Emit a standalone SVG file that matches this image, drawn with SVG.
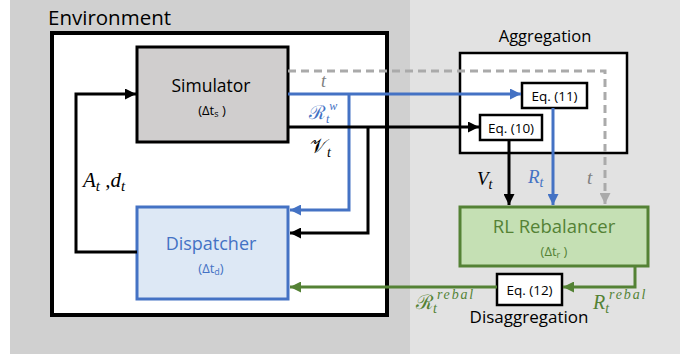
<svg xmlns="http://www.w3.org/2000/svg" width="694" height="354" viewBox="0 0 694 354">
<defs>
<marker id="ak" viewBox="0 0 10 10" refX="10" refY="5" markerWidth="11" markerHeight="11" markerUnits="userSpaceOnUse" orient="auto"><path d="M0,0 L10,5 L0,10 z" fill="#000"/></marker>
<marker id="ab" viewBox="0 0 10 10" refX="10" refY="5" markerWidth="11" markerHeight="11" markerUnits="userSpaceOnUse" orient="auto"><path d="M0,0 L10,5 L0,10 z" fill="#4472c4"/></marker>
<marker id="ag" viewBox="0 0 10 10" refX="10" refY="5" markerWidth="11" markerHeight="11" markerUnits="userSpaceOnUse" orient="auto"><path d="M0,0 L10,5 L0,10 z" fill="#aaaaaa"/></marker>
<marker id="an" viewBox="0 0 10 10" refX="10" refY="5" markerWidth="11" markerHeight="11" markerUnits="userSpaceOnUse" orient="auto"><path d="M0,0 L10,5 L0,10 z" fill="#548235"/></marker>
</defs>
<style>
.t{font-family:"Open Sans","Noto Sans",sans-serif}
.m{font-family:"Liberation Serif","DejaVu Serif",serif;font-style:italic}
.s{font-family:"DejaVu Serif","Liberation Serif",serif;font-style:normal}
.eq{fill:#fff;stroke:#000;stroke-width:2.5}
.c{fill:none;stroke-width:3}
.sup{letter-spacing:1.8px}
</style>
<rect x="10" y="0" width="400" height="354" fill="#d0d0d0"/>
<rect x="410" y="0" width="270" height="354" fill="#e2e2e2"/>
<g id="environment">
<rect x="52" y="33" width="335" height="282" fill="#fff" stroke="#000" stroke-width="4"/>
<text class="t" x="48" y="25" font-size="20.5">Environment</text>
</g>
<g id="aggregation">
<rect x="460" y="53" width="167" height="100" fill="#fff" stroke="#000" stroke-width="2.5"/>
<text class="t" x="545" y="42" font-size="16.5" text-anchor="middle">Aggregation</text>
</g>
<g id="simulator">
<rect x="137" y="47" width="151" height="95" fill="#d0cece" stroke="#000" stroke-width="3"/>
<text class="t" x="211" y="92" font-size="17.5" text-anchor="middle">Simulator</text>
<text class="t" x="212" y="115" font-size="13" text-anchor="middle">(Δt<tspan font-size="9" dy="2">s</tspan><tspan dy="-2"> )</tspan></text>
</g>
<g id="dispatcher">
<rect x="137" y="207" width="151" height="92" fill="#dde8f5" stroke="#4472c4" stroke-width="3"/>
<text class="t" x="211" y="250" font-size="18" fill="#4472c4" text-anchor="middle">Dispatcher</text>
<text class="t" x="211" y="273" font-size="13" fill="#4472c4" text-anchor="middle">(Δt<tspan font-size="9" dy="2">d</tspan><tspan dy="-2">)</tspan></text>
</g>
<g id="eq11">
<rect class="eq" x="522" y="83" width="65" height="25"/>
<text class="t" x="554.5" y="101" font-size="13.5" text-anchor="middle">Eq. (11)</text>
</g>
<g id="eq10">
<rect class="eq" x="480" y="115" width="62" height="25"/>
<text class="t" x="511" y="133" font-size="13.5" text-anchor="middle">Eq. (10)</text>
</g>
<g id="rebalancer">
<rect x="460" y="207" width="188" height="59" fill="#c5e0b4" stroke="#548235" stroke-width="3"/>
<text class="t" x="554" y="233" font-size="18.5" fill="#548235" text-anchor="middle">RL Rebalancer</text>
<text class="t" x="554" y="256" font-size="13" fill="#548235" text-anchor="middle">(Δt<tspan font-size="9" dy="2">r</tspan><tspan dy="-2"> )</tspan></text>
</g>
<g id="eq12">
<rect class="eq" x="497" y="274" width="65" height="31"/>
<text class="t" x="529.5" y="295" font-size="13.5" text-anchor="middle">Eq. (12)</text>
<text class="t" x="529" y="323" font-size="17" text-anchor="middle">Disaggregation</text>
</g>
<g id="connectors">
<path class="c" d="M288,71 H605 V204" stroke="#aaaaaa" stroke-width="2.5" stroke-dasharray="8 5" marker-end="url(#ag)"/>
<path class="c" d="M288,94 H521" stroke="#4472c4" marker-end="url(#ab)"/>
<path class="c" d="M349,94 V210 H290" stroke="#4472c4" marker-end="url(#ab)"/>
<path class="c" d="M288,127 H479" stroke="#000" marker-end="url(#ak)"/>
<path class="c" d="M368,127 V233 H290" stroke="#000" marker-end="url(#ak)"/>
<path class="c" d="M137,252 H76 V94 H136" stroke="#000" marker-end="url(#ak)"/>
<path class="c" d="M509,140 V205" stroke="#000" marker-end="url(#ak)"/>
<path class="c" d="M553,108 V205" stroke="#4472c4" marker-end="url(#ab)"/>
<path class="c" d="M635,266 V287 H563" stroke="#548235" marker-end="url(#an)"/>
<path class="c" d="M497,287 H290" stroke="#548235" marker-end="url(#an)"/>
<text class="m" x="321" y="87" font-size="18" fill="#808080">t</text>
<text class="s" x="309" y="119" font-size="19" fill="#4472c4">ℛ<tspan class="m" font-size="12" dy="4">t</tspan><tspan class="m" font-size="12" dx="0" dy="-13">w</tspan></text>
<text class="s" x="310" y="153" font-size="20" fill="#000">𝒱<tspan class="m" font-size="14" dy="4">t</tspan></text>
<text class="m" x="83" y="187" font-size="21" fill="#000">A<tspan font-size="15" dy="4">t</tspan><tspan dy="-4"> ,d</tspan><tspan font-size="15" dy="4">t</tspan></text>
<text class="m" x="477" y="185" font-size="19" fill="#000">V<tspan font-size="14" dy="4">t</tspan></text>
<text class="m" x="528" y="183" font-size="19" fill="#4472c4">R<tspan font-size="14" dy="4">t</tspan></text>
<text class="m" x="587" y="184" font-size="19" fill="#808080">t</text>
<text class="s" x="416" y="309" font-size="20" fill="#548235">ℛ<tspan class="m" font-size="14" dy="4">t</tspan><tspan class="m sup" font-size="14" dx="0" dy="-14">rebal</tspan></text>
<text class="m" x="593" y="309" font-size="20" fill="#548235">R<tspan font-size="14" dy="4">t</tspan><tspan class="sup" font-size="14" dx="0" dy="-14">rebal</tspan></text>
</g>
</svg>
